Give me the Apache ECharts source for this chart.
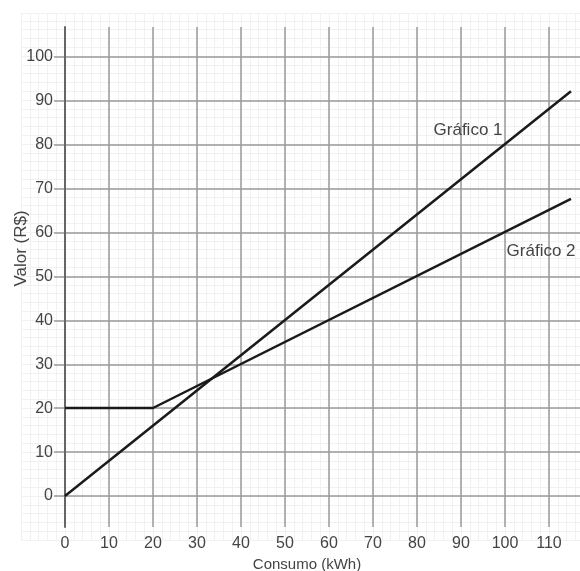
<!DOCTYPE html>
<html>
<head>
<meta charset="utf-8">
<script src="https://cdn.jsdelivr.net/npm/echarts@6/dist/echarts.min.js"></script>
<style>html,body{margin:0;padding:0;background:#fff}#c{width:580px;height:571px}</style>
</head>
<body>
<div id="c"></div>
<script>
// Data
var grafico1 = [[0, 0], [115, 92]];
var grafico2 = [[0, 20], [20, 20], [115, 67.5]];
var xTicks = [0, 10, 20, 30, 40, 50, 60, 70, 80, 90, 100, 110];
var yTicks = [0, 10, 20, 30, 40, 50, 60, 70, 80, 90, 100];
var seriesNames = ['Gráfico 1', 'Gráfico 2'];
var labelPos1 = [91.6, 83.2];
var labelPos2 = [108.2, 55.5];
var xName = 'Consumo (kWh)';
var yName = 'Valor (R$)';

var font = 'Liberation Sans, Arial, sans-serif';
var textColor = '#444';
var chart = echarts.init(document.getElementById('c'));
chart.setOption({
  backgroundColor: '#fff',
  animation: false,
  grid: [
    // graph paper + data
    {left: 21, right: 0, top: 13, bottom: 31, containLabel: false, outerBoundsMode: 'none'},
    // major vertical lines
    {left: 65, right: 31, top: 27, bottom: 44, containLabel: false, outerBoundsMode: 'none'},
    // major horizontal lines
    {left: 54, right: 0, top: 57, bottom: 75, containLabel: false, outerBoundsMode: 'none'}
  ],
  xAxis: [
    {gridIndex: 0, type: 'value', min: -10, max: 117.05, interval: 2, z: 0,
     axisLine: {show: false}, axisTick: {show: false}, axisLabel: {show: false},
     splitLine: {show: true, lineStyle: {color: '#f1f1f1', width: 1}}},
    {gridIndex: 1, type: 'value', min: xTicks[0], max: xTicks[xTicks.length - 1], interval: 10, z: 1,
     position: 'bottom',
     axisLine: {show: false}, axisTick: {show: false},
     axisLabel: {show: true, color: textColor, fontSize: 16, fontFamily: font, margin: 9},
     splitLine: {show: true, lineStyle: {color: '#9a9a9a', width: 1.5}},
     name: xName, nameLocation: 'middle', nameGap: 30, nameMoveOverlap: false,
     nameTextStyle: {color: textColor, fontSize: 15, fontFamily: font}},
    {gridIndex: 2, type: 'value', min: 0, max: 1, z: 1,
     axisLine: {show: false}, axisTick: {show: false}, axisLabel: {show: false}, splitLine: {show: false}}
  ],
  yAxis: [
    {gridIndex: 0, type: 'value', min: -10, max: 109.77, interval: 2, z: 0,
     axisLine: {show: false}, axisTick: {show: false}, axisLabel: {show: false},
     splitLine: {show: true, lineStyle: {color: '#f1f1f1', width: 1}}},
    {gridIndex: 1, type: 'value', min: -7.05, max: 106.6, z: 2,
     axisLine: {show: true, onZero: false, lineStyle: {color: '#666', width: 2}},
     axisTick: {show: false}, axisLabel: {show: false}, splitLine: {show: false}},
    {gridIndex: 2, type: 'value', min: yTicks[0], max: yTicks[yTicks.length - 1], interval: 10, z: 1,
     axisLine: {show: false}, axisTick: {show: false},
     axisLabel: {show: true, color: textColor, fontSize: 16, fontFamily: font, margin: 1},
     splitLine: {show: true, lineStyle: {color: '#9a9a9a', width: 1.5}},
     name: yName, nameLocation: 'middle', nameGap: 24, nameRotate: 90, nameMoveOverlap: false,
     nameTextStyle: {color: textColor, fontSize: 17, fontFamily: font, padding: [0, 0, 0, 56]}}
  ],
  series: [
    {name: seriesNames[0], type: 'line', xAxisIndex: 0, yAxisIndex: 0, data: grafico1, z: 5,
     symbol: 'none', clip: false, lineStyle: {color: '#1a1a1a', width: 2.5},
     markPoint: {symbol: 'circle', symbolSize: 0, silent: true,
       data: [{coord: labelPos1, label: {show: true, position: 'inside', formatter: seriesNames[0],
         color: textColor, fontSize: 17, fontFamily: font}}]}},
    {name: seriesNames[1], type: 'line', xAxisIndex: 0, yAxisIndex: 0, data: grafico2, z: 5,
     symbol: 'none', clip: false, lineStyle: {color: '#1a1a1a', width: 2.5},
     markPoint: {symbol: 'circle', symbolSize: 0, silent: true,
       data: [{coord: labelPos2, label: {show: true, position: 'inside', formatter: seriesNames[1],
         color: textColor, fontSize: 17, fontFamily: font}}]}}
  ]
});
</script>
</body>
</html>
